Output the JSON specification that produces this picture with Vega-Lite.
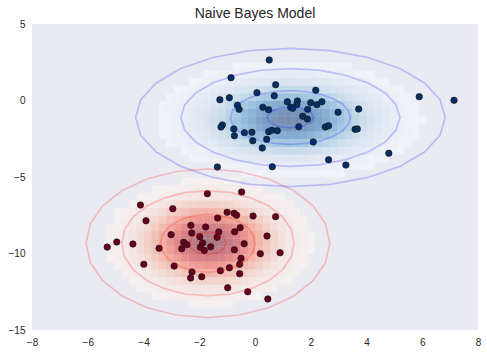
{
"$schema":"https://vega.github.io/schema/vega-lite/v6.json",
"width":446,"height":306,
"autosize":{"type":"none"},
"padding":{"left":32,"top":24,"right":9,"bottom":23},
"background":"white",
"title":{"text":"Naive Bayes Model","fontSize":14,"font":"Liberation Sans","fontWeight":"normal","color":"#262626","offset":-2},
"config":{"view":{"stroke":null,"fill":"#EAEAF2"},"axis":{"grid":true,"gridColor":"#ffffff","gridWidth":1,"gridOpacity":1,"domain":false,"ticks":false,"labelFont":"Liberation Sans","labelFontSize":10,"labelColor":"#262626","labelPadding":7,"labelFlush":false,"labelOverlap":false}},
"datasets":{
"hb":[
{"i":28,"j":20,"p":3},{"i":29,"j":20,"p":4},{"i":30,"j":20,"p":4},{"i":31,"j":20,"p":5},{"i":32,"j":20,"p":5},{"i":33,"j":20,"p":5},{"i":34,"j":20,"p":5},{"i":35,"j":20,"p":5},{"i":36,"j":20,"p":5},{"i":37,"j":20,"p":5},{"i":38,"j":20,"p":4},{"i":39,"j":20,"p":4},{"i":40,"j":20,"p":4},{"i":41,"j":20,"p":3},
{"i":24,"j":21,"p":4},{"i":25,"j":21,"p":4},{"i":26,"j":21,"p":5},{"i":27,"j":21,"p":6},{"i":28,"j":21,"p":7},{"i":29,"j":21,"p":8},{"i":30,"j":21,"p":9},{"i":31,"j":21,"p":10},{"i":32,"j":21,"p":11},{"i":33,"j":21,"p":11},{"i":34,"j":21,"p":11},{"i":35,"j":21,"p":11},{"i":36,"j":21,"p":11},{"i":37,"j":21,"p":10},{"i":38,"j":21,"p":10},{"i":39,"j":21,"p":9},{"i":40,"j":21,"p":8},{"i":41,"j":21,"p":7},{"i":42,"j":21,"p":6},{"i":43,"j":21,"p":5},{"i":44,"j":21,"p":4},{"i":45,"j":21,"p":3},
{"i":21,"j":22,"p":3},{"i":22,"j":22,"p":4},{"i":23,"j":22,"p":5},{"i":24,"j":22,"p":7},{"i":25,"j":22,"p":9},{"i":26,"j":22,"p":10},{"i":27,"j":22,"p":12},{"i":28,"j":22,"p":14},{"i":29,"j":22,"p":16},{"i":30,"j":22,"p":18},{"i":31,"j":22,"p":19},{"i":32,"j":22,"p":21},{"i":33,"j":22,"p":21},{"i":34,"j":22,"p":22},{"i":35,"j":22,"p":21},{"i":36,"j":22,"p":21},{"i":37,"j":22,"p":20},{"i":38,"j":22,"p":18},{"i":39,"j":22,"p":17},{"i":40,"j":22,"p":15},{"i":41,"j":22,"p":13},{"i":42,"j":22,"p":11},{"i":43,"j":22,"p":9},{"i":44,"j":22,"p":8},{"i":45,"j":22,"p":6},{"i":46,"j":22,"p":5},{"i":47,"j":22,"p":4},
{"i":20,"j":23,"p":4},{"i":21,"j":23,"p":6},{"i":22,"j":23,"p":7},{"i":23,"j":23,"p":9},{"i":24,"j":23,"p":12},{"i":25,"j":23,"p":15},{"i":26,"j":23,"p":18},{"i":27,"j":23,"p":21},{"i":28,"j":23,"p":24},{"i":29,"j":23,"p":28},{"i":30,"j":23,"p":31},{"i":31,"j":23,"p":33},{"i":32,"j":23,"p":35},{"i":33,"j":23,"p":37},{"i":34,"j":23,"p":37},{"i":35,"j":23,"p":37},{"i":36,"j":23,"p":36},{"i":37,"j":23,"p":34},{"i":38,"j":23,"p":32},{"i":39,"j":23,"p":29},{"i":40,"j":23,"p":26},{"i":41,"j":23,"p":22},{"i":42,"j":23,"p":19},{"i":43,"j":23,"p":16},{"i":44,"j":23,"p":13},{"i":45,"j":23,"p":10},{"i":46,"j":23,"p":8},{"i":47,"j":23,"p":6},{"i":48,"j":23,"p":5},{"i":49,"j":23,"p":3},
{"i":18,"j":24,"p":3},{"i":19,"j":24,"p":5},{"i":20,"j":24,"p":6},{"i":21,"j":24,"p":8},{"i":22,"j":24,"p":11},{"i":23,"j":24,"p":14},{"i":24,"j":24,"p":18},{"i":25,"j":24,"p":23},{"i":26,"j":24,"p":27},{"i":27,"j":24,"p":32},{"i":28,"j":24,"p":37},{"i":29,"j":24,"p":42},{"i":30,"j":24,"p":47},{"i":31,"j":24,"p":51},{"i":32,"j":24,"p":54},{"i":33,"j":24,"p":56},{"i":34,"j":24,"p":57},{"i":35,"j":24,"p":56},{"i":36,"j":24,"p":55},{"i":37,"j":24,"p":52},{"i":38,"j":24,"p":48},{"i":39,"j":24,"p":44},{"i":40,"j":24,"p":39},{"i":41,"j":24,"p":34},{"i":42,"j":24,"p":29},{"i":43,"j":24,"p":24},{"i":44,"j":24,"p":20},{"i":45,"j":24,"p":16},{"i":46,"j":24,"p":12},{"i":47,"j":24,"p":9},{"i":48,"j":24,"p":7},{"i":49,"j":24,"p":5},{"i":50,"j":24,"p":4},
{"i":17,"j":25,"p":3},{"i":18,"j":25,"p":4},{"i":19,"j":25,"p":6},{"i":20,"j":25,"p":8},{"i":21,"j":25,"p":11},{"i":22,"j":25,"p":15},{"i":23,"j":25,"p":20},{"i":24,"j":25,"p":25},{"i":25,"j":25,"p":31},{"i":26,"j":25,"p":37},{"i":27,"j":25,"p":44},{"i":28,"j":25,"p":51},{"i":29,"j":25,"p":58},{"i":30,"j":25,"p":64},{"i":31,"j":25,"p":69},{"i":32,"j":25,"p":73},{"i":33,"j":25,"p":76},{"i":34,"j":25,"p":77},{"i":35,"j":25,"p":77},{"i":36,"j":25,"p":75},{"i":37,"j":25,"p":71},{"i":38,"j":25,"p":66},{"i":39,"j":25,"p":60},{"i":40,"j":25,"p":53},{"i":41,"j":25,"p":46},{"i":42,"j":25,"p":40},{"i":43,"j":25,"p":33},{"i":44,"j":25,"p":27},{"i":45,"j":25,"p":21},{"i":46,"j":25,"p":17},{"i":47,"j":25,"p":13},{"i":48,"j":25,"p":10},{"i":49,"j":25,"p":7},{"i":50,"j":25,"p":5},{"i":51,"j":25,"p":3},
{"i":17,"j":26,"p":4},{"i":18,"j":26,"p":5},{"i":19,"j":26,"p":7},{"i":20,"j":26,"p":10},{"i":21,"j":26,"p":14},{"i":22,"j":26,"p":18},{"i":23,"j":26,"p":24},{"i":24,"j":26,"p":30},{"i":25,"j":26,"p":37},{"i":26,"j":26,"p":45},{"i":27,"j":26,"p":53},{"i":28,"j":26,"p":61},{"i":29,"j":26,"p":69},{"i":30,"j":26,"p":77},{"i":31,"j":26,"p":83},{"i":32,"j":26,"p":88},{"i":33,"j":26,"p":92},{"i":34,"j":26,"p":93},{"i":35,"j":26,"p":93},{"i":36,"j":26,"p":90},{"i":37,"j":26,"p":85},{"i":38,"j":26,"p":79},{"i":39,"j":26,"p":72},{"i":40,"j":26,"p":64},{"i":41,"j":26,"p":56},{"i":42,"j":26,"p":48},{"i":43,"j":26,"p":40},{"i":44,"j":26,"p":32},{"i":45,"j":26,"p":26},{"i":46,"j":26,"p":20},{"i":47,"j":26,"p":15},{"i":48,"j":26,"p":11},{"i":49,"j":26,"p":8},{"i":50,"j":26,"p":6},{"i":51,"j":26,"p":4},
{"i":17,"j":27,"p":4},{"i":18,"j":27,"p":6},{"i":19,"j":27,"p":8},{"i":20,"j":27,"p":11},{"i":21,"j":27,"p":15},{"i":22,"j":27,"p":20},{"i":23,"j":27,"p":25},{"i":24,"j":27,"p":32},{"i":25,"j":27,"p":40},{"i":26,"j":27,"p":48},{"i":27,"j":27,"p":57},{"i":28,"j":27,"p":66},{"i":29,"j":27,"p":74},{"i":30,"j":27,"p":83},{"i":31,"j":27,"p":89},{"i":32,"j":27,"p":95},{"i":33,"j":27,"p":98},{"i":34,"j":27,"p":100},{"i":35,"j":27,"p":99},{"i":36,"j":27,"p":96},{"i":37,"j":27,"p":92},{"i":38,"j":27,"p":85},{"i":39,"j":27,"p":77},{"i":40,"j":27,"p":69},{"i":41,"j":27,"p":60},{"i":42,"j":27,"p":51},{"i":43,"j":27,"p":43},{"i":44,"j":27,"p":35},{"i":45,"j":27,"p":28},{"i":46,"j":27,"p":22},{"i":47,"j":27,"p":16},{"i":48,"j":27,"p":12},{"i":49,"j":27,"p":9},{"i":50,"j":27,"p":6},{"i":51,"j":27,"p":4},{"i":52,"j":27,"p":3},
{"i":17,"j":28,"p":4},{"i":18,"j":28,"p":5},{"i":19,"j":28,"p":8},{"i":20,"j":28,"p":10},{"i":21,"j":28,"p":14},{"i":22,"j":28,"p":19},{"i":23,"j":28,"p":24},{"i":24,"j":28,"p":30},{"i":25,"j":28,"p":38},{"i":26,"j":28,"p":46},{"i":27,"j":28,"p":54},{"i":28,"j":28,"p":63},{"i":29,"j":28,"p":71},{"i":30,"j":28,"p":79},{"i":31,"j":28,"p":85},{"i":32,"j":28,"p":90},{"i":33,"j":28,"p":94},{"i":34,"j":28,"p":95},{"i":35,"j":28,"p":94},{"i":36,"j":28,"p":92},{"i":37,"j":28,"p":87},{"i":38,"j":28,"p":81},{"i":39,"j":28,"p":74},{"i":40,"j":28,"p":66},{"i":41,"j":28,"p":57},{"i":42,"j":28,"p":49},{"i":43,"j":28,"p":41},{"i":44,"j":28,"p":33},{"i":45,"j":28,"p":26},{"i":46,"j":28,"p":21},{"i":47,"j":28,"p":16},{"i":48,"j":28,"p":12},{"i":49,"j":28,"p":9},{"i":50,"j":28,"p":6},{"i":51,"j":28,"p":4},
{"i":17,"j":29,"p":3},{"i":18,"j":29,"p":5},{"i":19,"j":29,"p":6},{"i":20,"j":29,"p":9},{"i":21,"j":29,"p":12},{"i":22,"j":29,"p":16},{"i":23,"j":29,"p":20},{"i":24,"j":29,"p":26},{"i":25,"j":29,"p":32},{"i":26,"j":29,"p":39},{"i":27,"j":29,"p":46},{"i":28,"j":29,"p":53},{"i":29,"j":29,"p":60},{"i":30,"j":29,"p":66},{"i":31,"j":29,"p":72},{"i":32,"j":29,"p":76},{"i":33,"j":29,"p":79},{"i":34,"j":29,"p":80},{"i":35,"j":29,"p":80},{"i":36,"j":29,"p":78},{"i":37,"j":29,"p":74},{"i":38,"j":29,"p":69},{"i":39,"j":29,"p":62},{"i":40,"j":29,"p":56},{"i":41,"j":29,"p":48},{"i":42,"j":29,"p":41},{"i":43,"j":29,"p":34},{"i":44,"j":29,"p":28},{"i":45,"j":29,"p":22},{"i":46,"j":29,"p":17},{"i":47,"j":29,"p":13},{"i":48,"j":29,"p":10},{"i":49,"j":29,"p":7},{"i":50,"j":29,"p":5},{"i":51,"j":29,"p":4},
{"i":18,"j":30,"p":3},{"i":19,"j":30,"p":5},{"i":20,"j":30,"p":7},{"i":21,"j":30,"p":9},{"i":22,"j":30,"p":12},{"i":23,"j":30,"p":15},{"i":24,"j":30,"p":19},{"i":25,"j":30,"p":24},{"i":26,"j":30,"p":29},{"i":27,"j":30,"p":34},{"i":28,"j":30,"p":40},{"i":29,"j":30,"p":45},{"i":30,"j":30,"p":50},{"i":31,"j":30,"p":54},{"i":32,"j":30,"p":57},{"i":33,"j":30,"p":60},{"i":34,"j":30,"p":60},{"i":35,"j":30,"p":60},{"i":36,"j":30,"p":58},{"i":37,"j":30,"p":55},{"i":38,"j":30,"p":52},{"i":39,"j":30,"p":47},{"i":40,"j":30,"p":42},{"i":41,"j":30,"p":36},{"i":42,"j":30,"p":31},{"i":43,"j":30,"p":26},{"i":44,"j":30,"p":21},{"i":45,"j":30,"p":17},{"i":46,"j":30,"p":13},{"i":47,"j":30,"p":10},{"i":48,"j":30,"p":7},{"i":49,"j":30,"p":5},{"i":50,"j":30,"p":4},
{"i":19,"j":31,"p":3},{"i":20,"j":31,"p":4},{"i":21,"j":31,"p":6},{"i":22,"j":31,"p":8},{"i":23,"j":31,"p":10},{"i":24,"j":31,"p":13},{"i":25,"j":31,"p":16},{"i":26,"j":31,"p":19},{"i":27,"j":31,"p":23},{"i":28,"j":31,"p":27},{"i":29,"j":31,"p":30},{"i":30,"j":31,"p":33},{"i":31,"j":31,"p":36},{"i":32,"j":31,"p":38},{"i":33,"j":31,"p":40},{"i":34,"j":31,"p":40},{"i":35,"j":31,"p":40},{"i":36,"j":31,"p":39},{"i":37,"j":31,"p":37},{"i":38,"j":31,"p":34},{"i":39,"j":31,"p":31},{"i":40,"j":31,"p":28},{"i":41,"j":31,"p":24},{"i":42,"j":31,"p":21},{"i":43,"j":31,"p":17},{"i":44,"j":31,"p":14},{"i":45,"j":31,"p":11},{"i":46,"j":31,"p":9},{"i":47,"j":31,"p":7},{"i":48,"j":31,"p":5},{"i":49,"j":31,"p":4},
{"i":21,"j":32,"p":4},{"i":22,"j":32,"p":5},{"i":23,"j":32,"p":6},{"i":24,"j":32,"p":8},{"i":25,"j":32,"p":9},{"i":26,"j":32,"p":11},{"i":27,"j":32,"p":14},{"i":28,"j":32,"p":16},{"i":29,"j":32,"p":18},{"i":30,"j":32,"p":20},{"i":31,"j":32,"p":21},{"i":32,"j":32,"p":23},{"i":33,"j":32,"p":24},{"i":34,"j":32,"p":24},{"i":35,"j":32,"p":24},{"i":36,"j":32,"p":23},{"i":37,"j":32,"p":22},{"i":38,"j":32,"p":20},{"i":39,"j":32,"p":19},{"i":40,"j":32,"p":17},{"i":41,"j":32,"p":14},{"i":42,"j":32,"p":12},{"i":43,"j":32,"p":10},{"i":44,"j":32,"p":8},{"i":45,"j":32,"p":7},{"i":46,"j":32,"p":5},{"i":47,"j":32,"p":4},
{"i":23,"j":33,"p":3},{"i":24,"j":33,"p":4},{"i":25,"j":33,"p":5},{"i":26,"j":33,"p":6},{"i":27,"j":33,"p":7},{"i":28,"j":33,"p":8},{"i":29,"j":33,"p":9},{"i":30,"j":33,"p":10},{"i":31,"j":33,"p":11},{"i":32,"j":33,"p":12},{"i":33,"j":33,"p":12},{"i":34,"j":33,"p":13},{"i":35,"j":33,"p":12},{"i":36,"j":33,"p":12},{"i":37,"j":33,"p":12},{"i":38,"j":33,"p":11},{"i":39,"j":33,"p":10},{"i":40,"j":33,"p":9},{"i":41,"j":33,"p":8},{"i":42,"j":33,"p":6},{"i":43,"j":33,"p":5},{"i":44,"j":33,"p":4},{"i":45,"j":33,"p":3},
{"i":27,"j":34,"p":3},{"i":28,"j":34,"p":4},{"i":29,"j":34,"p":4},{"i":30,"j":34,"p":5},{"i":31,"j":34,"p":5},{"i":32,"j":34,"p":6},{"i":33,"j":34,"p":6},{"i":34,"j":34,"p":6},{"i":35,"j":34,"p":6},{"i":36,"j":34,"p":6},{"i":37,"j":34,"p":5},{"i":38,"j":34,"p":5},{"i":39,"j":34,"p":5},{"i":40,"j":34,"p":4},{"i":41,"j":34,"p":4},{"i":42,"j":34,"p":3}
],
"hr":[
{"i":21,"j":3,"p":3},{"i":22,"j":3,"p":3},{"i":23,"j":3,"p":4},{"i":24,"j":3,"p":4},{"i":25,"j":3,"p":3},{"i":26,"j":3,"p":3},
{"i":16,"j":4,"p":3},{"i":17,"j":4,"p":4},{"i":18,"j":4,"p":5},{"i":19,"j":4,"p":6},{"i":20,"j":4,"p":6},{"i":21,"j":4,"p":7},{"i":22,"j":4,"p":8},{"i":23,"j":4,"p":8},{"i":24,"j":4,"p":8},{"i":25,"j":4,"p":7},{"i":26,"j":4,"p":7},{"i":27,"j":4,"p":6},{"i":28,"j":4,"p":5},{"i":29,"j":4,"p":4},{"i":30,"j":4,"p":3},
{"i":14,"j":5,"p":3},{"i":15,"j":5,"p":5},{"i":16,"j":5,"p":6},{"i":17,"j":5,"p":8},{"i":18,"j":5,"p":9},{"i":19,"j":5,"p":11},{"i":20,"j":5,"p":13},{"i":21,"j":5,"p":14},{"i":22,"j":5,"p":15},{"i":23,"j":5,"p":15},{"i":24,"j":5,"p":15},{"i":25,"j":5,"p":14},{"i":26,"j":5,"p":13},{"i":27,"j":5,"p":12},{"i":28,"j":5,"p":10},{"i":29,"j":5,"p":8},{"i":30,"j":5,"p":7},{"i":31,"j":5,"p":5},{"i":32,"j":5,"p":4},
{"i":13,"j":6,"p":4},{"i":14,"j":6,"p":6},{"i":15,"j":6,"p":8},{"i":16,"j":6,"p":11},{"i":17,"j":6,"p":13},{"i":18,"j":6,"p":16},{"i":19,"j":6,"p":19},{"i":20,"j":6,"p":22},{"i":21,"j":6,"p":25},{"i":22,"j":6,"p":26},{"i":23,"j":6,"p":27},{"i":24,"j":6,"p":27},{"i":25,"j":6,"p":26},{"i":26,"j":6,"p":24},{"i":27,"j":6,"p":21},{"i":28,"j":6,"p":18},{"i":29,"j":6,"p":15},{"i":30,"j":6,"p":12},{"i":31,"j":6,"p":9},{"i":32,"j":6,"p":7},{"i":33,"j":6,"p":5},{"i":34,"j":6,"p":3},
{"i":12,"j":7,"p":5},{"i":13,"j":7,"p":7},{"i":14,"j":7,"p":9},{"i":15,"j":7,"p":13},{"i":16,"j":7,"p":17},{"i":17,"j":7,"p":21},{"i":18,"j":7,"p":26},{"i":19,"j":7,"p":31},{"i":20,"j":7,"p":36},{"i":21,"j":7,"p":39},{"i":22,"j":7,"p":42},{"i":23,"j":7,"p":43},{"i":24,"j":7,"p":43},{"i":25,"j":7,"p":41},{"i":26,"j":7,"p":38},{"i":27,"j":7,"p":34},{"i":28,"j":7,"p":29},{"i":29,"j":7,"p":24},{"i":30,"j":7,"p":19},{"i":31,"j":7,"p":15},{"i":32,"j":7,"p":11},{"i":33,"j":7,"p":8},{"i":34,"j":7,"p":6},{"i":35,"j":7,"p":4},
{"i":11,"j":8,"p":4},{"i":12,"j":8,"p":7},{"i":13,"j":8,"p":10},{"i":14,"j":8,"p":14},{"i":15,"j":8,"p":18},{"i":16,"j":8,"p":24},{"i":17,"j":8,"p":31},{"i":18,"j":8,"p":38},{"i":19,"j":8,"p":45},{"i":20,"j":8,"p":51},{"i":21,"j":8,"p":57},{"i":22,"j":8,"p":60},{"i":23,"j":8,"p":62},{"i":24,"j":8,"p":61},{"i":25,"j":8,"p":59},{"i":26,"j":8,"p":54},{"i":27,"j":8,"p":48},{"i":28,"j":8,"p":42},{"i":29,"j":8,"p":35},{"i":30,"j":8,"p":28},{"i":31,"j":8,"p":21},{"i":32,"j":8,"p":16},{"i":33,"j":8,"p":12},{"i":34,"j":8,"p":8},{"i":35,"j":8,"p":5},{"i":36,"j":8,"p":3},
{"i":10,"j":9,"p":4},{"i":11,"j":9,"p":6},{"i":12,"j":9,"p":8},{"i":13,"j":9,"p":12},{"i":14,"j":9,"p":18},{"i":15,"j":9,"p":24},{"i":16,"j":9,"p":32},{"i":17,"j":9,"p":40},{"i":18,"j":9,"p":49},{"i":19,"j":9,"p":58},{"i":20,"j":9,"p":67},{"i":21,"j":9,"p":73},{"i":22,"j":9,"p":78},{"i":23,"j":9,"p":80},{"i":24,"j":9,"p":80},{"i":25,"j":9,"p":76},{"i":26,"j":9,"p":70},{"i":27,"j":9,"p":63},{"i":28,"j":9,"p":54},{"i":29,"j":9,"p":45},{"i":30,"j":9,"p":36},{"i":31,"j":9,"p":28},{"i":32,"j":9,"p":21},{"i":33,"j":9,"p":15},{"i":34,"j":9,"p":10},{"i":35,"j":9,"p":7},{"i":36,"j":9,"p":5},
{"i":10,"j":10,"p":4},{"i":11,"j":10,"p":7},{"i":12,"j":10,"p":10},{"i":13,"j":10,"p":15},{"i":14,"j":10,"p":21},{"i":15,"j":10,"p":28},{"i":16,"j":10,"p":37},{"i":17,"j":10,"p":47},{"i":18,"j":10,"p":58},{"i":19,"j":10,"p":68},{"i":20,"j":10,"p":78},{"i":21,"j":10,"p":86},{"i":22,"j":10,"p":92},{"i":23,"j":10,"p":94},{"i":24,"j":10,"p":94},{"i":25,"j":10,"p":90},{"i":26,"j":10,"p":83},{"i":27,"j":10,"p":74},{"i":28,"j":10,"p":63},{"i":29,"j":10,"p":53},{"i":30,"j":10,"p":42},{"i":31,"j":10,"p":33},{"i":32,"j":10,"p":24},{"i":33,"j":10,"p":18},{"i":34,"j":10,"p":12},{"i":35,"j":10,"p":8},{"i":36,"j":10,"p":5},{"i":37,"j":10,"p":3},
{"i":10,"j":11,"p":4},{"i":11,"j":11,"p":7},{"i":12,"j":11,"p":11},{"i":13,"j":11,"p":15},{"i":14,"j":11,"p":22},{"i":15,"j":11,"p":30},{"i":16,"j":11,"p":39},{"i":17,"j":11,"p":50},{"i":18,"j":11,"p":61},{"i":19,"j":11,"p":72},{"i":20,"j":11,"p":83},{"i":21,"j":11,"p":91},{"i":22,"j":11,"p":97},{"i":23,"j":11,"p":100},{"i":24,"j":11,"p":99},{"i":25,"j":11,"p":95},{"i":26,"j":11,"p":88},{"i":27,"j":11,"p":78},{"i":28,"j":11,"p":67},{"i":29,"j":11,"p":56},{"i":30,"j":11,"p":45},{"i":31,"j":11,"p":35},{"i":32,"j":11,"p":26},{"i":33,"j":11,"p":19},{"i":34,"j":11,"p":13},{"i":35,"j":11,"p":9},{"i":36,"j":11,"p":6},{"i":37,"j":11,"p":4},
{"i":10,"j":12,"p":4},{"i":11,"j":12,"p":7},{"i":12,"j":12,"p":10},{"i":13,"j":12,"p":15},{"i":14,"j":12,"p":21},{"i":15,"j":12,"p":28},{"i":16,"j":12,"p":37},{"i":17,"j":12,"p":48},{"i":18,"j":12,"p":58},{"i":19,"j":12,"p":69},{"i":20,"j":12,"p":79},{"i":21,"j":12,"p":87},{"i":22,"j":12,"p":93},{"i":23,"j":12,"p":95},{"i":24,"j":12,"p":95},{"i":25,"j":12,"p":91},{"i":26,"j":12,"p":84},{"i":27,"j":12,"p":75},{"i":28,"j":12,"p":64},{"i":29,"j":12,"p":53},{"i":30,"j":12,"p":43},{"i":31,"j":12,"p":33},{"i":32,"j":12,"p":25},{"i":33,"j":12,"p":18},{"i":34,"j":12,"p":12},{"i":35,"j":12,"p":8},{"i":36,"j":12,"p":5},{"i":37,"j":12,"p":3},
{"i":10,"j":13,"p":4},{"i":11,"j":13,"p":6},{"i":12,"j":13,"p":9},{"i":13,"j":13,"p":13},{"i":14,"j":13,"p":18},{"i":15,"j":13,"p":25},{"i":16,"j":13,"p":32},{"i":17,"j":13,"p":41},{"i":18,"j":13,"p":50},{"i":19,"j":13,"p":60},{"i":20,"j":13,"p":68},{"i":21,"j":13,"p":75},{"i":22,"j":13,"p":80},{"i":23,"j":13,"p":82},{"i":24,"j":13,"p":82},{"i":25,"j":13,"p":78},{"i":26,"j":13,"p":72},{"i":27,"j":13,"p":64},{"i":28,"j":13,"p":55},{"i":29,"j":13,"p":46},{"i":30,"j":13,"p":37},{"i":31,"j":13,"p":29},{"i":32,"j":13,"p":21},{"i":33,"j":13,"p":15},{"i":34,"j":13,"p":11},{"i":35,"j":13,"p":7},{"i":36,"j":13,"p":5},
{"i":11,"j":14,"p":4},{"i":12,"j":14,"p":7},{"i":13,"j":14,"p":10},{"i":14,"j":14,"p":14},{"i":15,"j":14,"p":19},{"i":16,"j":14,"p":25},{"i":17,"j":14,"p":32},{"i":18,"j":14,"p":39},{"i":19,"j":14,"p":46},{"i":20,"j":14,"p":53},{"i":21,"j":14,"p":59},{"i":22,"j":14,"p":62},{"i":23,"j":14,"p":64},{"i":24,"j":14,"p":63},{"i":25,"j":14,"p":61},{"i":26,"j":14,"p":56},{"i":27,"j":14,"p":50},{"i":28,"j":14,"p":43},{"i":29,"j":14,"p":36},{"i":30,"j":14,"p":29},{"i":31,"j":14,"p":22},{"i":32,"j":14,"p":17},{"i":33,"j":14,"p":12},{"i":34,"j":14,"p":8},{"i":35,"j":14,"p":6},{"i":36,"j":14,"p":4},
{"i":11,"j":15,"p":3},{"i":12,"j":15,"p":5},{"i":13,"j":15,"p":7},{"i":14,"j":15,"p":10},{"i":15,"j":15,"p":13},{"i":16,"j":15,"p":18},{"i":17,"j":15,"p":22},{"i":18,"j":15,"p":28},{"i":19,"j":15,"p":33},{"i":20,"j":15,"p":37},{"i":21,"j":15,"p":41},{"i":22,"j":15,"p":44},{"i":23,"j":15,"p":45},{"i":24,"j":15,"p":45},{"i":25,"j":15,"p":43},{"i":26,"j":15,"p":39},{"i":27,"j":15,"p":35},{"i":28,"j":15,"p":30},{"i":29,"j":15,"p":25},{"i":30,"j":15,"p":20},{"i":31,"j":15,"p":16},{"i":32,"j":15,"p":12},{"i":33,"j":15,"p":8},{"i":34,"j":15,"p":6},{"i":35,"j":15,"p":4},
{"i":13,"j":16,"p":4},{"i":14,"j":16,"p":6},{"i":15,"j":16,"p":8},{"i":16,"j":16,"p":11},{"i":17,"j":16,"p":14},{"i":18,"j":16,"p":17},{"i":19,"j":16,"p":21},{"i":20,"j":16,"p":24},{"i":21,"j":16,"p":26},{"i":22,"j":16,"p":28},{"i":23,"j":16,"p":28},{"i":24,"j":16,"p":28},{"i":25,"j":16,"p":27},{"i":26,"j":16,"p":25},{"i":27,"j":16,"p":22},{"i":28,"j":16,"p":19},{"i":29,"j":16,"p":16},{"i":30,"j":16,"p":13},{"i":31,"j":16,"p":10},{"i":32,"j":16,"p":7},{"i":33,"j":16,"p":5},{"i":34,"j":16,"p":4},
{"i":14,"j":17,"p":4},{"i":15,"j":17,"p":5},{"i":16,"j":17,"p":6},{"i":17,"j":17,"p":8},{"i":18,"j":17,"p":10},{"i":19,"j":17,"p":12},{"i":20,"j":17,"p":13},{"i":21,"j":17,"p":15},{"i":22,"j":17,"p":16},{"i":23,"j":17,"p":16},{"i":24,"j":17,"p":16},{"i":25,"j":17,"p":15},{"i":26,"j":17,"p":14},{"i":27,"j":17,"p":13},{"i":28,"j":17,"p":11},{"i":29,"j":17,"p":9},{"i":30,"j":17,"p":7},{"i":31,"j":17,"p":6},{"i":32,"j":17,"p":4},{"i":33,"j":17,"p":3},
{"i":16,"j":18,"p":3},{"i":17,"j":18,"p":4},{"i":18,"j":18,"p":5},{"i":19,"j":18,"p":6},{"i":20,"j":18,"p":7},{"i":21,"j":18,"p":8},{"i":22,"j":18,"p":8},{"i":23,"j":18,"p":8},{"i":24,"j":18,"p":8},{"i":25,"j":18,"p":8},{"i":26,"j":18,"p":7},{"i":27,"j":18,"p":7},{"i":28,"j":18,"p":6},{"i":29,"j":18,"p":5},{"i":30,"j":18,"p":4},
{"i":20,"j":19,"p":3},{"i":21,"j":19,"p":4},{"i":22,"j":19,"p":4},{"i":23,"j":19,"p":4},{"i":24,"j":19,"p":4},{"i":25,"j":19,"p":4},{"i":26,"j":19,"p":3},{"i":27,"j":19,"p":3}
],
"pts":[
{"g":"b","x":0.51,"y":2.65},{"g":"b","x":-0.86,"y":1.49},{"g":"b","x":0.74,"y":1.03},{"g":"b","x":2.18,"y":0.67},{"g":"b","x":0.07,"y":0.51},{"g":"b","x":0.69,"y":0.31},{"g":"b","x":-1.26,"y":0.05},{"g":"b","x":-0.92,"y":0.18},{"g":"b","x":5.89,"y":0.25},{"g":"b","x":7.14,"y":0.01},
{"g":"b","x":1.16,"y":-0.08},{"g":"b","x":1.52,"y":-0.03},{"g":"b","x":1.5,"y":-0.27},{"g":"b","x":1.28,"y":-0.44},{"g":"b","x":1.35,"y":-0.51},{"g":"b","x":2.0,"y":-0.14},{"g":"b","x":2.22,"y":-0.27},{"g":"b","x":2.4,"y":-0.08},{"g":"b","x":1.89,"y":-0.58},{"g":"b","x":-0.63,"y":-0.31},
{"g":"b","x":-0.57,"y":-0.58},{"g":"b","x":0.28,"y":-0.44},{"g":"b","x":0.49,"y":-0.6},{"g":"b","x":3.72,"y":-0.56},{"g":"b","x":2.98,"y":-0.77},{"g":"b","x":1.71,"y":-1.03},{"g":"b","x":1.88,"y":-1.21},{"g":"b","x":1.57,"y":-1.71},{"g":"b","x":2.52,"y":-1.73},{"g":"b","x":2.64,"y":-1.65},
{"g":"b","x":3.59,"y":-1.88},{"g":"b","x":3.67,"y":-1.86},{"g":"b","x":-1.17,"y":-1.6},{"g":"b","x":-1.22,"y":-1.73},{"g":"b","x":-0.76,"y":-1.86},{"g":"b","x":-0.74,"y":-2.3},{"g":"b","x":-0.38,"y":-2.1},{"g":"b","x":-0.11,"y":-2.08},{"g":"b","x":-0.08,"y":-2.63},{"g":"b","x":0.49,"y":-2.04},
{"g":"b","x":0.6,"y":-1.95},{"g":"b","x":0.8,"y":-1.97},{"g":"b","x":0.42,"y":-2.54},{"g":"b","x":0.26,"y":-3.1},{"g":"b","x":2.09,"y":-2.71},{"g":"b","x":2.64,"y":-3.87},{"g":"b","x":3.26,"y":-4.22},{"g":"b","x":4.8,"y":-3.45},{"g":"b","x":-1.35,"y":-4.35},{"g":"b","x":0.62,"y":-4.33},
{"g":"r","x":-1.71,"y":-6.09},{"g":"r","x":-0.48,"y":-5.98},{"g":"r","x":-4.11,"y":-6.83},{"g":"r","x":-2.95,"y":-7.07},{"g":"r","x":-3.91,"y":-7.86},{"g":"r","x":-1.0,"y":-7.31},{"g":"r","x":-0.75,"y":-7.37},{"g":"r","x":-0.66,"y":-7.5},{"g":"r","x":-0.07,"y":-7.55},{"g":"r","x":0.74,"y":-7.59},
{"g":"r","x":-1.34,"y":-7.68},{"g":"r","x":-2.3,"y":-8.16},{"g":"r","x":-1.77,"y":-8.27},{"g":"r","x":-2.27,"y":-8.66},{"g":"r","x":-3.01,"y":-8.77},{"g":"r","x":-1.3,"y":-8.59},{"g":"r","x":-1.36,"y":-8.94},{"g":"r","x":-0.73,"y":-8.58},{"g":"r","x":-0.53,"y":-8.31},{"g":"r","x":-1.98,"y":-8.9},
{"g":"r","x":0.43,"y":-8.86},{"g":"r","x":-0.39,"y":-9.36},{"g":"r","x":-2.56,"y":-9.27},{"g":"r","x":-2.44,"y":-9.42},{"g":"r","x":-2.63,"y":-9.69},{"g":"r","x":-1.88,"y":-9.31},{"g":"r","x":-1.96,"y":-9.59},{"g":"r","x":-1.82,"y":-9.8},{"g":"r","x":-1.59,"y":-9.56},{"g":"r","x":-3.44,"y":-9.66},
{"g":"r","x":-4.96,"y":-9.25},{"g":"r","x":-5.3,"y":-9.58},{"g":"r","x":-4.38,"y":-9.38},{"g":"r","x":-0.74,"y":-9.75},{"g":"r","x":0.19,"y":-10.01},{"g":"r","x":0.9,"y":-9.95},{"g":"r","x":-0.5,"y":-10.31},{"g":"r","x":-0.55,"y":-10.71},{"g":"r","x":-0.92,"y":-10.93},{"g":"r","x":-1.24,"y":-11.12},
{"g":"r","x":-0.55,"y":-11.32},{"g":"r","x":-3.99,"y":-10.71},{"g":"r","x":-2.9,"y":-10.82},{"g":"r","x":-2.26,"y":-11.21},{"g":"r","x":-2.31,"y":-11.6},{"g":"r","x":-1.91,"y":-11.52},{"g":"r","x":-0.98,"y":-12.24},{"g":"r","x":-0.26,"y":-12.5},{"g":"r","x":0.46,"y":-12.97}
],
"cont":[
{"g":"b","l":1,"x":6.82,"y":-1.11},{"g":"b","l":1,"x":6.64,"y":0.06},{"g":"b","l":1,"x":6.08,"y":1.15},{"g":"b","l":1,"x":5.2,"y":2.09},{"g":"b","l":1,"x":4.05,"y":2.81},{"g":"b","l":1,"x":2.71,"y":3.26},{"g":"b","l":1,"x":1.27,"y":3.41},{"g":"b","l":1,"x":-0.17,"y":3.26},{"g":"b","l":1,"x":-1.51,"y":2.81},{"g":"b","l":1,"x":-2.66,"y":2.09},{"g":"b","l":1,"x":-3.54,"y":1.15},{"g":"b","l":1,"x":-4.1,"y":0.06},{"g":"b","l":1,"x":-4.28,"y":-1.11},{"g":"b","l":1,"x":-4.1,"y":-2.28},{"g":"b","l":1,"x":-3.54,"y":-3.37},{"g":"b","l":1,"x":-2.66,"y":-4.31},{"g":"b","l":1,"x":-1.51,"y":-5.03},{"g":"b","l":1,"x":-0.17,"y":-5.48},{"g":"b","l":1,"x":1.27,"y":-5.63},{"g":"b","l":1,"x":2.71,"y":-5.48},{"g":"b","l":1,"x":4.05,"y":-5.03},{"g":"b","l":1,"x":5.2,"y":-4.31},{"g":"b","l":1,"x":6.08,"y":-3.37},{"g":"b","l":1,"x":6.64,"y":-2.28},
{"g":"b","l":2,"x":5.2,"y":-1.11},{"g":"b","l":2,"x":5.06,"y":-0.28},{"g":"b","l":2,"x":4.67,"y":0.49},{"g":"b","l":2,"x":4.05,"y":1.15},{"g":"b","l":2,"x":3.23,"y":1.66},{"g":"b","l":2,"x":2.29,"y":1.98},{"g":"b","l":2,"x":1.27,"y":2.09},{"g":"b","l":2,"x":0.25,"y":1.98},{"g":"b","l":2,"x":-0.69,"y":1.66},{"g":"b","l":2,"x":-1.51,"y":1.15},{"g":"b","l":2,"x":-2.13,"y":0.49},{"g":"b","l":2,"x":-2.52,"y":-0.28},{"g":"b","l":2,"x":-2.66,"y":-1.11},{"g":"b","l":2,"x":-2.52,"y":-1.94},{"g":"b","l":2,"x":-2.13,"y":-2.71},{"g":"b","l":2,"x":-1.51,"y":-3.37},{"g":"b","l":2,"x":-0.69,"y":-3.88},{"g":"b","l":2,"x":0.25,"y":-4.2},{"g":"b","l":2,"x":1.27,"y":-4.31},{"g":"b","l":2,"x":2.29,"y":-4.2},{"g":"b","l":2,"x":3.23,"y":-3.88},{"g":"b","l":2,"x":4.05,"y":-3.37},{"g":"b","l":2,"x":4.67,"y":-2.71},{"g":"b","l":2,"x":5.06,"y":-1.94},
{"g":"b","l":3,"x":3.42,"y":-1.11},{"g":"b","l":3,"x":3.35,"y":-0.66},{"g":"b","l":3,"x":3.14,"y":-0.23},{"g":"b","l":3,"x":2.79,"y":0.13},{"g":"b","l":3,"x":2.35,"y":0.41},{"g":"b","l":3,"x":1.83,"y":0.58},{"g":"b","l":3,"x":1.27,"y":0.64},{"g":"b","l":3,"x":0.71,"y":0.58},{"g":"b","l":3,"x":0.19,"y":0.41},{"g":"b","l":3,"x":-0.25,"y":0.13},{"g":"b","l":3,"x":-0.6,"y":-0.23},{"g":"b","l":3,"x":-0.81,"y":-0.66},{"g":"b","l":3,"x":-0.88,"y":-1.11},{"g":"b","l":3,"x":-0.81,"y":-1.56},{"g":"b","l":3,"x":-0.6,"y":-1.99},{"g":"b","l":3,"x":-0.25,"y":-2.35},{"g":"b","l":3,"x":0.19,"y":-2.63},{"g":"b","l":3,"x":0.71,"y":-2.8},{"g":"b","l":3,"x":1.27,"y":-2.86},{"g":"b","l":3,"x":1.83,"y":-2.8},{"g":"b","l":3,"x":2.35,"y":-2.63},{"g":"b","l":3,"x":2.79,"y":-2.35},{"g":"b","l":3,"x":3.14,"y":-1.99},{"g":"b","l":3,"x":3.35,"y":-1.56},
{"g":"b","l":4,"x":2.11,"y":-1.11},{"g":"b","l":4,"x":2.0,"y":-0.77},{"g":"b","l":4,"x":1.69,"y":-0.52},{"g":"b","l":4,"x":1.27,"y":-0.43},{"g":"b","l":4,"x":0.85,"y":-0.52},{"g":"b","l":4,"x":0.54,"y":-0.77},{"g":"b","l":4,"x":0.43,"y":-1.11},{"g":"b","l":4,"x":0.54,"y":-1.45},{"g":"b","l":4,"x":0.85,"y":-1.7},{"g":"b","l":4,"x":1.27,"y":-1.79},{"g":"b","l":4,"x":1.69,"y":-1.7},{"g":"b","l":4,"x":2.0,"y":-1.45},
{"g":"r","l":1,"x":2.68,"y":-9.33},{"g":"r","l":1,"x":2.53,"y":-8.07},{"g":"r","l":1,"x":2.09,"y":-6.9},{"g":"r","l":1,"x":1.4,"y":-5.9},{"g":"r","l":1,"x":0.5,"y":-5.13},{"g":"r","l":1,"x":-0.56,"y":-4.64},{"g":"r","l":1,"x":-1.69,"y":-4.47},{"g":"r","l":1,"x":-2.82,"y":-4.64},{"g":"r","l":1,"x":-3.88,"y":-5.13},{"g":"r","l":1,"x":-4.78,"y":-5.9},{"g":"r","l":1,"x":-5.47,"y":-6.9},{"g":"r","l":1,"x":-5.91,"y":-8.07},{"g":"r","l":1,"x":-6.06,"y":-9.33},{"g":"r","l":1,"x":-5.91,"y":-10.59},{"g":"r","l":1,"x":-5.47,"y":-11.76},{"g":"r","l":1,"x":-4.78,"y":-12.76},{"g":"r","l":1,"x":-3.88,"y":-13.54},{"g":"r","l":1,"x":-2.82,"y":-14.02},{"g":"r","l":1,"x":-1.69,"y":-14.19},{"g":"r","l":1,"x":-0.56,"y":-14.02},{"g":"r","l":1,"x":0.5,"y":-13.54},{"g":"r","l":1,"x":1.4,"y":-12.76},{"g":"r","l":1,"x":2.09,"y":-11.76},{"g":"r","l":1,"x":2.53,"y":-10.59},
{"g":"r","l":2,"x":1.4,"y":-9.33},{"g":"r","l":2,"x":1.3,"y":-8.44},{"g":"r","l":2,"x":0.99,"y":-7.61},{"g":"r","l":2,"x":0.5,"y":-6.9},{"g":"r","l":2,"x":-0.15,"y":-6.36},{"g":"r","l":2,"x":-0.89,"y":-6.01},{"g":"r","l":2,"x":-1.69,"y":-5.9},{"g":"r","l":2,"x":-2.49,"y":-6.01},{"g":"r","l":2,"x":-3.24,"y":-6.36},{"g":"r","l":2,"x":-3.88,"y":-6.9},{"g":"r","l":2,"x":-4.37,"y":-7.61},{"g":"r","l":2,"x":-4.68,"y":-8.44},{"g":"r","l":2,"x":-4.78,"y":-9.33},{"g":"r","l":2,"x":-4.68,"y":-10.22},{"g":"r","l":2,"x":-4.37,"y":-11.05},{"g":"r","l":2,"x":-3.88,"y":-11.76},{"g":"r","l":2,"x":-3.24,"y":-12.3},{"g":"r","l":2,"x":-2.49,"y":-12.65},{"g":"r","l":2,"x":-1.69,"y":-12.76},{"g":"r","l":2,"x":-0.89,"y":-12.65},{"g":"r","l":2,"x":-0.15,"y":-12.3},{"g":"r","l":2,"x":0.5,"y":-11.76},{"g":"r","l":2,"x":0.99,"y":-11.05},{"g":"r","l":2,"x":1.3,"y":-10.22},
{"g":"r","l":3,"x":0.0,"y":-9.33},{"g":"r","l":3,"x":-0.05,"y":-8.84},{"g":"r","l":3,"x":-0.22,"y":-8.39},{"g":"r","l":3,"x":-0.49,"y":-8.0},{"g":"r","l":3,"x":-0.84,"y":-7.7},{"g":"r","l":3,"x":-1.25,"y":-7.51},{"g":"r","l":3,"x":-1.69,"y":-7.45},{"g":"r","l":3,"x":-2.13,"y":-7.51},{"g":"r","l":3,"x":-2.54,"y":-7.7},{"g":"r","l":3,"x":-2.89,"y":-8.0},{"g":"r","l":3,"x":-3.16,"y":-8.39},{"g":"r","l":3,"x":-3.33,"y":-8.84},{"g":"r","l":3,"x":-3.38,"y":-9.33},{"g":"r","l":3,"x":-3.33,"y":-9.82},{"g":"r","l":3,"x":-3.16,"y":-10.27},{"g":"r","l":3,"x":-2.89,"y":-10.66},{"g":"r","l":3,"x":-2.54,"y":-10.96},{"g":"r","l":3,"x":-2.13,"y":-11.15},{"g":"r","l":3,"x":-1.69,"y":-11.21},{"g":"r","l":3,"x":-1.25,"y":-11.15},{"g":"r","l":3,"x":-0.84,"y":-10.96},{"g":"r","l":3,"x":-0.49,"y":-10.66},{"g":"r","l":3,"x":-0.22,"y":-10.27},{"g":"r","l":3,"x":-0.05,"y":-9.82},
{"g":"r","l":4,"x":-1.03,"y":-9.33},{"g":"r","l":4,"x":-1.12,"y":-8.96},{"g":"r","l":4,"x":-1.36,"y":-8.69},{"g":"r","l":4,"x":-1.69,"y":-8.6},{"g":"r","l":4,"x":-2.02,"y":-8.69},{"g":"r","l":4,"x":-2.26,"y":-8.96},{"g":"r","l":4,"x":-2.35,"y":-9.33},{"g":"r","l":4,"x":-2.26,"y":-9.7},{"g":"r","l":4,"x":-2.02,"y":-9.97},{"g":"r","l":4,"x":-1.69,"y":-10.06},{"g":"r","l":4,"x":-1.36,"y":-9.97},{"g":"r","l":4,"x":-1.12,"y":-9.7}
]
},
"layer":[
{"data":{"name":"hr"},"mark":{"type":"rect","opacity":0.5},
 "encoding":{
  "x":{"field":"i","type":"quantitative","bin":{"step":1,"extent":[0,60]},"scale":{"domain":[0,60]},"axis":null},
  "y":{"field":"j","type":"quantitative","bin":{"step":1,"extent":[0,40]},"scale":{"domain":[0,40]},"axis":null},
  "color":{"field":"p","type":"quantitative","scale":{"domain":[3,15.125,27.25,39.375,51.5,63.625,75.75,87.875,100],"range":["#fff5f0","#fee0d2","#fcbba1","#fc9272","#fb6a4a","#ef3b2c","#cb181d","#a50f15","#67000d"],"interpolate":"rgb"},"legend":null}}},
{"data":{"name":"hb"},"mark":{"type":"rect","opacity":0.5},
 "encoding":{
  "x":{"field":"i","type":"quantitative","bin":{"step":1,"extent":[0,60]},"scale":{"domain":[0,60]},"axis":null},
  "y":{"field":"j","type":"quantitative","bin":{"step":1,"extent":[0,40]},"scale":{"domain":[0,40]},"axis":null},
  "color":{"field":"p","type":"quantitative","scale":{"domain":[3,15.125,27.25,39.375,51.5,63.625,75.75,87.875,100],"range":["#f7fbff","#deebf7","#c6dbef","#9ecae1","#6baed6","#4292c6","#2171b5","#08519c","#08306b"],"interpolate":"rgb"},"legend":null}}},
{"data":{"name":"pts"},"mark":{"type":"circle","size":42,"opacity":1,"stroke":"#141414","strokeWidth":0.6},
 "encoding":{
  "x":{"field":"x","type":"quantitative","scale":{"domain":[-8,8],"nice":false,"zero":false},"axis":{"values":[-8,-6,-4,-2,0,2,4,6,8],"title":null}},
  "y":{"field":"y","type":"quantitative","scale":{"domain":[-15,5],"nice":false,"zero":false},"axis":{"values":[-15,-10,-5,0,5],"title":null}},
  "color":{"field":"g","type":"nominal","scale":{"domain":["r","b"],"range":["#67001f","#053061"]},"legend":null}}},
{"data":{"name":"cont"},"mark":{"type":"line","interpolate":"linear-closed","strokeWidth":1.75,"opacity":0.2,"clip":true},
 "encoding":{
  "x":{"field":"x","type":"quantitative","scale":{"domain":[-8,8],"nice":false,"zero":false},"axis":null},
  "y":{"field":"y","type":"quantitative","scale":{"domain":[-15,5],"nice":false,"zero":false},"axis":null},
  "color":{"field":"g","type":"nominal","scale":{"domain":["r","b"],"range":["#ff0000","#0000ff"]},"legend":null},
  "detail":{"field":"l","type":"nominal"},
  "order":{"value":null}}}
],
"resolve":{"scale":{"x":"independent","y":"independent","color":"independent"}}
}
